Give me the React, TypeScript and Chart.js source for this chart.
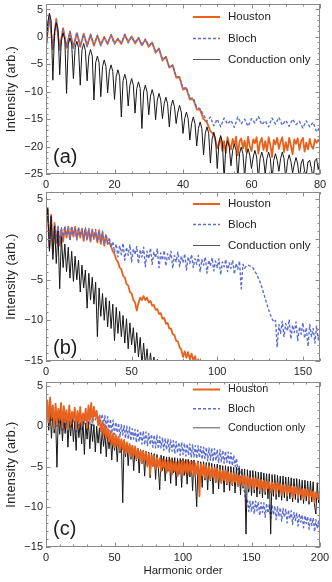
import React, { useEffect, useRef } from 'react';
import { Chart, registerables } from 'chart.js';
Chart.register(...registerables);

// ---------------- DATA ----------------
// Panel (a): harmonic orders 0..80
// Houston: orders 0..50 (step 1), then 50.5..80 (step 0.5)
const aHoustonHead = [
  -2.0, 4.0, -2.3, 3.3, -2.2, 1.6, -2.0, 1.0, -1.9, 0.7,
  -1.8, 0.6, -1.6, 0.4, -1.6, 0.2, -1.4, 0.0, -1.3, 0.4,
  -1.1, -0.4, -1.3, 0.4, -0.9, 0.1, -1.2, -0.2, -1.5, -0.5,
  -1.8, -1.0, -2.9, -2.1, -4.3, -3.6, -5.6, -5.2, -7.4, -7.4,
  -9.6, -9.4, -11.4, -11.4, -13.2, -13.3, -15.0, -15.6, -17.2, -17.8,
  -20.3,
];
const aHoustonTail = [
  -19.5, -18.4, -20.8, -19.0, -21.2, -18.3, -19.6, -20.5, -18.6, -19.8,
  -18.2, -21.6, -19.1, -18.5, -20.3, -18.9, -21.0, -18.2, -19.9, -20.8,
  -18.7, -19.4, -18.3, -21.3, -19.2, -18.4, -20.6, -19.0, -20.9, -18.3,
  -19.7, -21.9, -18.8, -19.6, -18.4, -20.4, -19.1, -18.3, -21.0, -19.2,
  -20.7, -18.4, -19.8, -21.4, -18.7, -19.5, -18.5, -20.6, -19.0, -18.4,
  -20.9, -19.3, -20.5, -18.6, -19.9, -20.4, -18.7, -19.3, -18.8, -19.2,
];
const aBloch = [
  -1.8, 3.8, -2.0, 3.1, -2.4, 1.4, -1.8, 0.9, -2.1, 0.8,
  -1.6, 0.5, -1.8, 0.5, -1.4, 0.3, -1.6, -0.1, -1.1, 0.3,
  -1.3, -0.3, -1.1, 0.5, -1.1, 0.0, -1.0, -0.1, -1.6, -0.4,
  -1.6, -1.1, -2.7, -2.2, -4.1, -3.7, -5.5, -5.1, -7.2, -7.3,
  -9.4, -9.2, -11.2, -11.1, -12.9, -13.1, -14.2, -15.4, -14.6, -16.2,
  -15.0, -16.4, -14.8, -15.9, -15.2, -16.5, -14.6, -15.8, -15.0, -16.3,
  -14.9, -15.7, -14.5, -16.0, -15.3, -16.4, -14.8, -15.9, -14.7, -16.1,
  -15.2, -16.3, -15.0, -16.0, -15.4, -16.6, -15.3, -16.4, -15.6, -17.3,
  -16.5,
];
// Conduction only: orders 0..80, step 0.5
const aCond = [
  -2.5, 2.5, 4.3, 3.0, -7.9, 1.0, 2.6, 1.4,
  -6.9, -0.5, 0.7, -0.5, -10.3, -1.4, -0.2, -1.3,
  -7.6, -2.0, -0.8, -2.0, -8.8, -2.4, -1.2, -2.5,
  -8.0, -3.5, -2.3, -3.5, -11.5, -4.7, -3.5, -4.7,
  -10.9, -5.4, -4.2, -5.4, -10.2, -6.3, -5.1, -6.3,
  -11.4, -7.2, -6.0, -7.2, -14.6, -8.0, -6.8, -8.0,
  -12.6, -8.8, -7.6, -8.8, -13.9, -9.4, -8.2, -9.4,
  -16.7, -10.0, -8.8, -10.0, -14.2, -10.8, -9.6, -10.8,
  -15.1, -11.5, -10.3, -11.5, -14.9, -12.2, -11.0, -12.2,
  -16.4, -12.7, -11.5, -12.7, -15.8, -13.7, -12.5, -13.7,
  -17.6, -14.9, -13.7, -14.9, -18.8, -15.8, -14.6, -15.8,
  -19.9, -16.7, -15.5, -16.7, -21.5, -17.6, -16.4, -17.6,
  -23.0, -18.6, -17.4, -18.6, -24.0, -19.2, -18.0, -19.2,
  -26.0, -20.1, -18.9, -20.1, -23.5, -20.7, -19.5, -20.7,
  -26.0, -21.3, -20.1, -21.3, -25.5, -21.6, -20.4, -21.6,
  -24.0, -21.9, -20.7, -21.9, -26.0, -22.2, -21.0, -22.2,
  -25.0, -22.2, -21.0, -22.2, -26.0, -22.5, -21.3, -22.5,
  -24.5, -22.2, -21.0, -22.2, -26.0, -22.7, -21.5, -22.7,
  -24.8, -23.2, -22.0, -23.2, -26.0, -23.0, -22.3, -24.5,
  -25.2, -22.8, -22.5, -24.0, -26.0, -22.6, -22.2, -24.2,
  -22.5,
];

// Panel (b): harmonic orders 0..160, step 1
const bHouston = [
  2.0, 3.6, -1.0, 3.0, -1.6, 2.0, -0.5, 1.4, -0.8, 1.2,
  -0.3, 1.4, 0.2, 1.5, 0.0, 1.4, 0.3, 1.5, 0.1, 1.2,
  0.2, 1.3, -0.2, 1.2, 0.1, 1.1, -0.3, 1.2, 0.0, 0.9,
  -0.4, 1.1, -0.6, 0.8, -0.8, 0.5, -0.6, -0.4, -0.9, -1.5,
  -1.8, -2.5, -2.8, -3.5, -3.7, -4.5, -4.7, -5.5, -5.7, -6.5,
  -6.7, -7.5, -7.8, -8.8, -7.9, -7.2, -7.5, -7.0, -7.5, -7.2,
  -7.8, -7.6, -8.2, -8.1, -8.7, -8.6, -9.2, -9.1, -9.8, -9.7,
  -10.4, -10.3, -11.0, -11.0, -11.7, -11.8, -12.5, -12.6, -13.3, -13.6,
  -14.5, -13.8, -14.6, -13.9, -14.8, -14.1, -14.9, -14.4, -15.3, -14.8,
  -16.0,
];
const bBloch = [
  2.2, 3.9, -1.2, 2.8, -1.8, 1.8, -0.2, 1.6, -0.6, 1.4,
  0.0, 1.6, 0.4, 1.3, -0.2, 1.6, 0.5, 1.3, -0.1, 1.5,
  0.4, 1.1, 0.0, 1.4, -0.2, 1.3, -0.1, 1.0, 0.2, 1.2,
  -0.3, 0.9, -0.4, 1.0, -0.6, 0.6, -0.5, 0.2, -1.0, -0.3,
  -1.6, -0.6, -2.2, -0.8, -1.9, -0.5, -2.6, -1.0, -2.0, -0.7,
  -2.8, -1.2, -1.9, -0.9, -3.0, -1.3, -2.2, -1.0, -3.4, -1.5,
  -2.4, -1.1, -3.1, -1.6, -2.3, -1.2, -3.5, -1.7, -2.6, -1.4,
  -3.3, -1.8, -2.5, -1.5, -3.6, -2.0, -2.8, -1.6, -3.4, -2.1,
  -2.9, -1.8, -3.8, -2.2, -3.0, -1.9, -3.5, -2.4, -3.1, -2.0,
  -4.0, -2.5, -3.2, -2.2, -4.2, -2.6, -3.3, -2.3, -3.9, -2.7,
  -3.5, -2.4, -4.4, -2.8, -3.4, -2.5, -4.0, -2.9, -3.6, -2.6,
  -4.3, -3.0, -3.7, -2.7, -6.1, -3.1, -3.6, -3.3, -3.2, -3.3,
  -3.4, -3.6, -4.0, -4.3, -4.8, -5.3, -5.9, -6.6, -7.3, -8.0,
  -8.7, -9.3, -9.8, -10.2, -10.0, -13.3, -10.5, -11.6, -10.1, -12.0,
  -10.4, -11.3, -9.9, -12.3, -10.6, -11.5, -10.2, -12.5, -10.8, -11.7,
  -10.3, -12.2, -10.9, -13.2, -10.5, -12.0, -11.0, -12.8, -10.7, -12.4,
  -11.5,
];
const bCond = [
  1.0, 3.8, -1.5, 2.8, -2.5, 1.6, -3.0, 1.0, -6.1, 0.3,
  -3.5, -0.6, -4.0, -1.0, -4.8, -1.5, -5.2, -2.1, -5.0, -2.6,
  -6.5, -3.2, -6.0, -3.8, -8.5, -4.2, -7.5, -4.7, -8.0, -5.3,
  -12.0, -6.0, -9.5, -6.7, -10.0, -7.2, -10.8, -7.6, -11.0, -8.0,
  -12.5, -8.4, -11.6, -8.9, -12.0, -9.4, -12.8, -9.8, -13.5, -10.3,
  -13.0, -10.9, -14.0, -11.5, -14.5, -12.1, -15.5, -12.8, -15.5, -13.5,
  -16.0, -14.0, -16.0, -14.5, -16.0, -14.8, -16.5,
];

// Panel (c): harmonic orders 0..200, step 1
const cHouston = [
  0.0, 3.2, 0.5, 3.6, 1.0, 2.6, -0.3, 2.8, 0.4, 2.2,
  0.8, 2.9, -0.2, 2.5, 0.6, 2.0, -0.4, 2.6, 0.3, 1.8,
  0.9, 2.3, -0.3, 1.9, 0.5, 2.4, 0.0, 1.6, 0.7, 2.2,
  -0.2, 2.6, 0.8, 2.9, 0.5, 2.4, 1.2, 1.9, 0.1, 1.2,
  -0.6, 0.5, -1.2, 0.2, -1.5, -0.3, -1.9, -0.6, -2.3, -0.9,
  -2.6, -1.1, -2.4, -1.3, -3.0, -1.6, -2.9, -1.7, -3.4, -2.0,
  -3.3, -2.2, -3.8, -2.4, -3.6, -2.5, -4.1, -2.8, -4.0, -3.0,
  -4.6, -3.1, -4.3, -3.2, -5.0, -3.4, -6.0, -3.6, -4.9, -3.7,
  -5.3, -3.9, -5.1, -4.0, -5.6, -4.1, -5.2, -4.2, -5.8, -4.3,
  -5.5, -4.2, -6.0, -4.4, -5.6, -4.5, -6.2, -4.4, -5.7, -4.3,
  -6.1, -4.4, -5.8, -4.2, -6.0, -4.5, -5.7, -4.4, -6.2, -4.6,
  -5.9, -4.5, -8.7, -4.7, -6.1, -4.8, -6.4, -4.9, -6.2, -5.0,
  -6.6, -5.1, -6.3, -5.2, -6.8, -5.3, -6.5, -5.4, -7.0, -5.5,
  -6.7, -5.5, -7.1, -5.7, -6.8, -5.8, -7.2, -5.9, -6.9, -6.0,
  -7.4, -6.1, -7.0, -6.1, -7.5, -6.2, -7.2, -6.3, -7.7, -6.4,
  -7.3, -6.4, -7.8, -6.5, -7.5, -6.6, -8.0, -6.7, -7.6, -6.8,
  -8.1, -6.9, -7.7, -6.9, -8.2, -7.0, -7.8, -7.1, -8.4, -7.1,
  -7.9, -7.2, -8.5, -7.3, -8.1, -7.3, -8.6, -7.4, -8.2, -7.5,
  -8.8, -7.5, -8.3, -7.6, -8.9, -7.7, -8.5, -7.8, -9.0, -7.8,
  -8.6, -7.9, -9.2, -8.0, -8.7, -8.1, -9.5, -8.2, -8.9, -8.3,
  -9.3,
];
const cBloch = [
  -0.5, 2.8, 0.2, 3.0, 0.6, 2.2, -0.8, 2.4, 0.0, 1.8,
  0.3, 2.4, -0.6, 2.1, 0.2, 1.6, -0.9, 2.2, -0.1, 1.5,
  0.4, 1.9, -0.7, 1.5, 0.1, 2.0, -0.4, 1.3, 0.3, 1.8,
  -0.6, 2.1, 0.3, 2.4, 0.1, 2.0, 0.8, 1.6, 0.2, 1.5,
  0.6, 1.5, 0.1, 1.3, -0.4, 1.2, -0.6, 0.9, -0.9, 0.8,
  -1.0, 0.5, -0.8, 0.4, -1.3, 0.2, -1.1, 0.1, -1.5, 0.0,
  -1.6, -0.1, -1.8, -0.3, -1.6, -0.4, -2.0, -0.5, -1.9, -0.6,
  -2.2, -0.6, -2.3, -0.7, -2.4, -0.9, -2.3, -1.0, -2.6, -1.1,
  -2.7, -1.1, -2.8, -1.3, -2.7, -1.4, -3.0, -1.5, -2.9, -1.6,
  -3.2, -1.7, -3.1, -1.8, -3.4, -1.9, -3.3, -2.0, -3.6, -2.0,
  -3.5, -2.1, -3.7, -2.2, -3.6, -2.2, -3.9, -2.3, -3.8, -2.4,
  -4.0, -2.4, -3.9, -2.5, -4.1, -2.6, -4.0, -2.6, -4.3, -2.7,
  -4.2, -2.7, -4.4, -2.8, -4.3, -2.9, -4.5, -2.9, -4.4, -3.0,
  -4.6, -3.1, -4.5, -3.2, -4.8, -3.3, -4.9, -3.6, -5.0, -4.0,
  -5.4, -4.9, -6.3, -6.6, -7.9, -8.1, -9.6, -9.0, -10.6, -9.3,
  -10.6, -9.2, -10.9, -9.3, -10.5, -9.4, -11.1, -9.5, -10.7, -9.5,
  -11.3, -9.6, -10.8, -9.7, -11.4, -9.8, -11.0, -9.9, -11.6, -10.0,
  -11.2, -10.1, -11.8, -10.2, -11.3, -10.3, -12.0, -10.4, -11.5, -10.5,
  -12.2, -10.7, -11.7, -10.8, -12.4, -10.9, -11.9, -11.0, -12.6, -11.1,
  -12.1, -11.2, -12.8, -11.3, -12.3, -11.4, -13.1, -11.6, -12.7, -11.8,
  -13.3,
];
const cCond = [
  1.0, 2.8, -0.5, 2.0, -1.5, 1.8, -0.8, 1.2, -5.1, 1.5,
  -1.0, 1.4, -1.8, 1.0, -0.9, 1.3, -2.6, 0.8, -1.2, 1.1,
  -1.9, 0.6, -3.0, 0.9, -1.4, 0.5, -2.2, 0.7, -3.5, 0.4,
  -1.6, 0.6, -2.8, 0.3, -1.9, 0.2, -3.2, 0.0, -2.1, -0.2,
  -3.4, -0.5, -2.5, -0.7, -3.8, -0.9, -2.8, -1.1, -4.2, -1.3,
  -3.0, -1.5, -4.4, -1.6, -3.3, -1.8, -9.5, -2.0, -3.8, -2.1,
  -4.9, -2.3, -4.1, -2.4, -5.5, -2.6, -4.3, -2.7, -5.8, -2.9,
  -4.6, -3.0, -6.2, -3.1, -4.8, -3.2, -6.4, -3.3, -5.0, -3.4,
  -6.6, -3.5, -5.2, -7.9, -3.6, -5.5, -3.7, -6.8, -3.8, -5.6,
  -3.8, -7.1, -3.9, -5.8, -3.9, -7.4, -4.0, -6.0, -4.0, -7.6,
  -4.0, -6.1, -4.1, -7.2, -4.1, -6.3, -4.2, -8.0, -4.2, -6.4,
  -10.0, -4.3, -6.6, -4.4, -7.6, -4.4, -6.7, -4.5, -7.9, -4.5,
  -6.8, -4.6, -8.4, -4.7, -7.0, -4.7, -7.8, -4.8, -7.1, -4.9,
  -8.2, -4.9, -7.3, -5.0, -8.0, -5.0, -7.4, -5.1, -8.3, -5.1,
  -7.5, -5.2, -8.5, -5.3, -7.7, -5.3, -13.4, -5.4, -8.2, -5.5,
  -8.6, -5.5, -8.3, -5.6, -8.8, -5.7, -8.4, -5.7, -8.9, -5.8,
  -8.5, -5.9, -9.0, -5.9, -13.4, -6.0, -8.7, -6.0, -9.1, -6.1,
  -8.8, -6.2, -9.2, -6.2, -8.9, -6.3, -9.3, -6.3, -9.0, -6.4,
  -9.4, -6.5, -9.1, -6.5, -9.5, -6.6, -9.2, -6.7, -9.6, -6.7,
  -9.3, -6.8, -9.7, -6.8, -9.4, -6.9, -9.8, -10.9, -7.0, -9.5,
  -7.2,
];

// ---------------- STYLE ----------------
const FONT = '"Liberation Sans", Arial, Helvetica, sans-serif';
const ORANGE = '#E8621E';
const BLUE = '#5D6ED2';
const BLACK = '#161616';
const FRAME = '#8a8a8a';
const TEXT = '#1e1e1e';

const LEGEND_NAMES = ['Houston', 'Bloch', 'Conduction only'];

type Seg = { start: number; step: number; vals: number[] };
type PanelCfg = {
  top: number; height: number;
  xMax: number; xMajor: number; xMinor: number;
  yMin: number; yMax: number; yMajor: number; yMinor: number;
  xAxisH: number; label: string; labelBase: number;
  legendY: number[]; legendFont: number; xTitle?: string;
  houston: Seg[]; bloch: Seg[]; cond: Seg[];
  orders: [number, number, number];
};

const pts = (segs: Seg[]) =>
  segs.flatMap((s) => s.vals.map((v, i) => ({ x: s.start + i * s.step, y: v })));

const fmt = (v: number) => (v < 0 ? '\u2212' + Math.abs(v) : String(v));

function makeDeco(p: PanelCfg) {
  return {
    id: 'deco',
    afterDatasetsDraw(chart: any) {
      const { ctx, chartArea: a, scales } = chart;
      const x = scales.x, y = scales.y;
      ctx.save();
      ctx.strokeStyle = FRAME;
      ctx.lineWidth = 1;
      ctx.setLineDash([]);
      ctx.strokeRect(a.left + 0.5, a.top + 0.5, a.right - a.left - 1, a.bottom - a.top - 1);
      ctx.beginPath();
      const nx = Math.round(p.xMax / p.xMinor);
      for (let i = 0; i <= nx; i++) {
        const v = i * p.xMinor;
        const px = Math.round(x.getPixelForValue(v)) + 0.5;
        const major = Math.round(v) % p.xMajor === 0;
        const L = major ? 4.5 : 2.5;
        ctx.moveTo(px, a.bottom); ctx.lineTo(px, a.bottom - L);
        ctx.moveTo(px, a.top); ctx.lineTo(px, a.top + L);
      }
      for (let v = Math.ceil(p.yMin); v <= p.yMax; v += p.yMinor) {
        const py = Math.round(y.getPixelForValue(v)) + 0.5;
        const major = ((v % p.yMajor) + p.yMajor) % p.yMajor === 0;
        const L = major ? 4.5 : 2.5;
        ctx.moveTo(a.left, py); ctx.lineTo(a.left + L, py);
        ctx.moveTo(a.right, py); ctx.lineTo(a.right - L, py);
      }
      ctx.stroke();

      const lx0 = 193, lx1 = 220, tx = 228;
      const styles = [
        { c: ORANGE, w: 2, d: [] as number[] },
        { c: BLUE, w: 1.5, d: [3, 2] },
        { c: '#555', w: 1, d: [] as number[] },
      ];
      ctx.font = `${p.legendFont}px ${FONT}`;
      ctx.textBaseline = 'middle';
      ctx.textAlign = 'left';
      LEGEND_NAMES.forEach((name, i) => {
        const ly = p.legendY[i];
        ctx.beginPath();
        ctx.strokeStyle = styles[i].c;
        ctx.lineWidth = styles[i].w;
        ctx.setLineDash(styles[i].d);
        ctx.moveTo(lx0, ly + 0.5); ctx.lineTo(lx1, ly + 0.5);
        ctx.stroke();
        ctx.setLineDash([]);
        ctx.fillStyle = TEXT;
        ctx.fillText(name, tx, ly + 0.5);
      });

      ctx.font = `20px ${FONT}`;
      ctx.textBaseline = 'alphabetic';
      ctx.fillStyle = TEXT;
      ctx.fillText(p.label, 53, p.labelBase);

      ctx.save();
      ctx.translate(12, (a.top + a.bottom) / 2);
      ctx.rotate(-Math.PI / 2);
      ctx.font = `12.5px ${FONT}`;
      try { (ctx as any).letterSpacing = '0.4px'; } catch (e) { /* ignore */ }
      ctx.textAlign = 'center';
      ctx.textBaseline = 'middle';
      ctx.fillText('Intensity (arb.)', 0, 0);
      ctx.restore();

      if (p.xTitle) {
        ctx.font = `11.5px ${FONT}`;
        ctx.textAlign = 'center';
        ctx.textBaseline = 'middle';
        ctx.fillText(p.xTitle, (a.left + a.right) / 2, p.height - 11);
      }
      ctx.restore();
    },
  };
}

function Panel({ p }: { p: PanelCfg }) {
  const ref = useRef<HTMLCanvasElement | null>(null);
  useEffect(() => {
    if (!ref.current) return;
    const tickFont = { family: FONT, size: 11 };
    const chart = new Chart(ref.current, {
      type: 'line',
      data: {
        datasets: [
          {
            label: 'Houston', data: pts(p.houston), borderColor: ORANGE, borderWidth: 1.8,
            pointRadius: 0, tension: 0, borderJoinStyle: 'round', order: p.orders[0],
          },
          {
            label: 'Bloch', data: pts(p.bloch), borderColor: BLUE, borderWidth: 1.4,
            borderDash: [3, 2], pointRadius: 0, tension: 0, borderJoinStyle: 'round', order: p.orders[1],
          },
          {
            label: 'Conduction only', data: pts(p.cond), borderColor: BLACK, borderWidth: 1,
            pointRadius: 0, tension: 0, borderJoinStyle: 'round', order: p.orders[2],
          },
        ],
      } as any,
      options: {
        animation: false,
        responsive: false,
        maintainAspectRatio: false,
        events: [],
        layout: { padding: { top: 4, right: 12, left: 0, bottom: 0 } },
        plugins: { legend: { display: false }, tooltip: { enabled: false }, title: { display: false } },
        scales: {
          x: {
            type: 'linear', min: 0, max: p.xMax,
            grid: { display: false, drawTicks: false },
            border: { display: false },
            ticks: {
              stepSize: p.xMajor, includeBounds: false, autoSkip: false, maxRotation: 0,
              font: tickFont, color: TEXT, padding: 4,
              callback: (v: any) => fmt(Number(v)),
            },
            afterFit: (s: any) => { s.height = p.xAxisH; s.paddingLeft = 0; s.paddingRight = 0; },
          },
          y: {
            type: 'linear', min: p.yMin, max: p.yMax,
            grid: { display: false, drawTicks: false },
            border: { display: false },
            ticks: {
              stepSize: p.yMajor, includeBounds: false, autoSkip: false,
              font: tickFont, color: TEXT, padding: 3,
              callback: (v: any) => fmt(Number(v)),
            },
            afterFit: (s: any) => { s.width = 46; s.paddingTop = 0; s.paddingBottom = 0; },
          },
        },
      } as any,
      plugins: [makeDeco(p)],
    });
    return () => chart.destroy();
  }, [p]);
  return (
    <canvas
      ref={ref}
      width={332}
      height={p.height}
      style={{ position: 'absolute', left: 0, top: p.top, width: 332, height: p.height }}
    />
  );
}

const PANELS: PanelCfg[] = [
  {
    top: 0, height: 190, xMax: 80, xMajor: 20, xMinor: 5, yMin: -25, yMax: 6, yMajor: 5, yMinor: 1,
    xAxisH: 16, label: '(a)', labelBase: 163, legendY: [16.5, 38, 59], legendFont: 11.5,
    houston: [{ start: 0, step: 1, vals: aHoustonHead }, { start: 50.5, step: 0.5, vals: aHoustonTail }],
    bloch: [{ start: 0, step: 1, vals: aBloch }],
    cond: [{ start: 0, step: 0.5, vals: aCond }],
    orders: [3, 2, 1],
  },
  {
    top: 188, height: 190, xMax: 160, xMajor: 50, xMinor: 10, yMin: -15, yMax: 5.8, yMajor: 5, yMinor: 1,
    xAxisH: 17, label: '(b)', labelBase: 166, legendY: [15.5, 36, 57], legendFont: 11.5,
    houston: [{ start: 0, step: 1, vals: bHouston }],
    bloch: [{ start: 0, step: 1, vals: bBloch }],
    cond: [{ start: 0, step: 1, vals: bCond }],
    orders: [3, 2, 1],
  },
  {
    top: 378, height: 204, xMax: 200, xMajor: 50, xMinor: 10, yMin: -15, yMax: 5.5, yMajor: 5, yMinor: 1,
    xAxisH: 35, label: '(c)', labelBase: 157, legendY: [11, 30.3, 49.3], legendFont: 10.8,
    xTitle: 'Harmonic order',
    houston: [{ start: 0, step: 1, vals: cHouston }],
    bloch: [{ start: 0, step: 1, vals: cBloch }],
    cond: [{ start: 0, step: 1, vals: cCond }],
    orders: [1, 3, 2],
  },
];

export default function App() {
  return (
    <div style={{ position: 'absolute', left: 0, top: 0, width: 332, height: 582, background: '#fff' }}>
      {PANELS.map((p, i) => <Panel key={i} p={p} />)}
    </div>
  );
}
